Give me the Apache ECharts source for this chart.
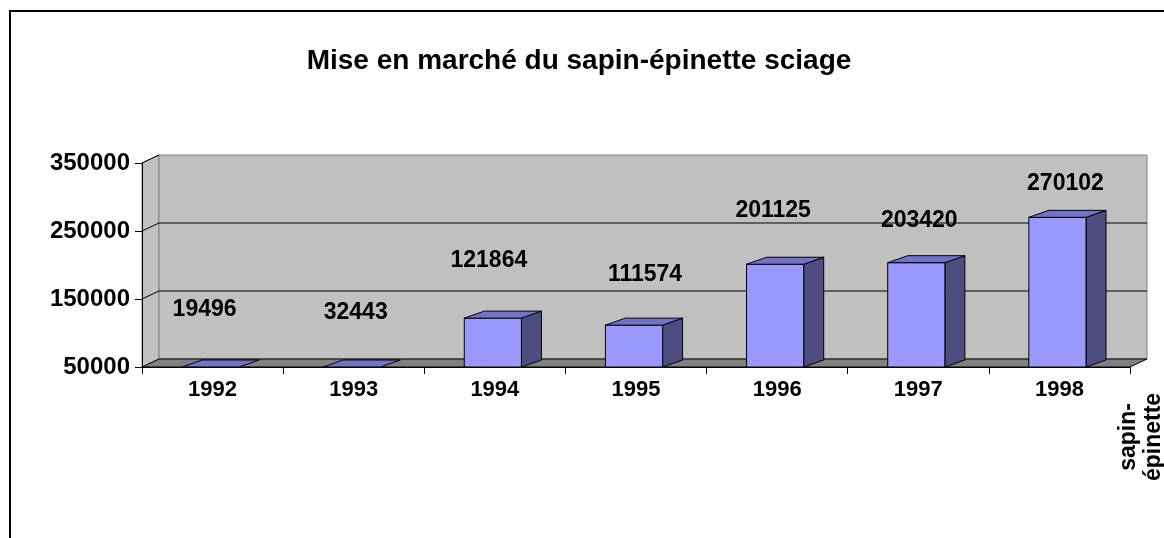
<!DOCTYPE html>
<html>
<head>
<meta charset="utf-8">
<script src="https://cdn.jsdelivr.net/npm/echarts@6/dist/echarts.min.js"></script>
<style>
html,body{margin:0;padding:0;background:#fff;}
#chart{width:1164px;height:538px;}
</style>
</head>
<body>
<div id="chart"></div>
<script>
// ---- data ----
const titleText = 'Mise en marché du sapin-épinette sciage';
const seriesName = 'sapin-\népinette';
const categories = ['1992', '1993', '1994', '1995', '1996', '1997', '1998'];
const values = [19496, 32443, 121864, 111574, 201125, 203420, 270102];
const yTicks = [50000, 150000, 250000, 350000];
const yMin = 50000, yMax = 350000, yStep = 100000;

// ---- style / placement (not data) ----
const FONT = 'Arial, "Liberation Sans", sans-serif';
const WALL_D = [17, -8];   // wall depth offset in px
const BAR_D = [20, -7];    // bar depth offset in px
const labelNudge = [[-8, -57], [2, -54], [-6, -57], [9, -50], [-4, -54], [1, -42], [6, -34]];

const chart = echarts.init(document.getElementById('chart'), null, {renderer: 'canvas'});

function frameRender(params, api) {
  const cs = params.coordSys;
  const x0 = cs.x, x1 = cs.x + cs.width;
  const yB = api.coord([0, yMin])[1];
  const yT = api.coord([0, yMax])[1];
  const dx = WALL_D[0], dy = WALL_D[1];
  const children = [];
  // side wall
  children.push({type: 'polygon', shape: {points: [[x0, yT], [x0 + dx, yT + dy], [x0 + dx, yB + dy], [x0, yB]]},
    style: {fill: '#C0C0C0', stroke: '#808080', lineWidth: 1}});
  // back wall
  children.push({type: 'rect', shape: {x: x0 + dx, y: yT + dy, width: x1 - x0, height: yB - yT},
    style: {fill: '#C0C0C0', stroke: '#808080', lineWidth: 1}});
  // floor
  children.push({type: 'polygon', shape: {points: [[x0, yB], [x0 + dx, yB + dy], [x1 + dx, yB + dy], [x1, yB]]},
    style: {fill: '#808080', stroke: '#000', lineWidth: 1}});
  // gridlines
  yTicks.forEach(function (v) {
    if (v <= yMin) return;
    const y = api.coord([0, v])[1];
    const pts = v >= yMax ? [[x0, y], [x0 + dx, y + dy]] : [[x0, y], [x0 + dx, y + dy], [x1 + dx, y + dy]];
    children.push({type: 'polyline', shape: {points: pts},
      style: {stroke: '#000', lineWidth: 1, fill: null}});
  });
  return {type: 'group', children: children};
}

function barRender(params, api) {
  const i = api.value(0);
  const v = api.value(1);
  const vc = Math.max(v, yMin);
  const top = api.coord([i, vc]);
  const base = api.coord([i, yMin]);
  const bw = api.size([1, 0])[0] * 0.405;
  const left = top[0] - bw / 2 - 2, right = left + bw;
  const yT = top[1], yB = base[1];
  const dx = BAR_D[0], dy = BAR_D[1];
  const children = [];
  if (yB - yT > 0.5) {
    children.push({type: 'polygon', shape: {points: [[right, yT], [right + dx, yT + dy], [right + dx, yB + dy], [right, yB]]},
      style: {fill: '#4D4D80', stroke: '#000', lineWidth: 1}});
    children.push({type: 'rect', shape: {x: left, y: yT, width: bw, height: yB - yT},
      style: {fill: '#9999FF', stroke: '#000', lineWidth: 1}});
  }
  children.push({type: 'polygon', shape: {points: [[left, yT], [left + dx, yT + dy], [right + dx, yT + dy], [right, yT]]},
    style: {fill: '#7373C6', stroke: '#000', lineWidth: 1}});
  const n = labelNudge[params.dataIndex] || [0, -50];
  children.push({type: 'text', x: top[0] + n[0], y: yT + n[1],
    style: {text: String(v), fill: '#000', font: 'bold 23px ' + FONT, align: 'center', verticalAlign: 'middle'}});
  return {type: 'group', children: children};
}

const option = {
  backgroundColor: '#fff',
  animation: false,
  title: {
    text: titleText, left: 574, top: 42, textAlign: 'center',
    textStyle: {fontSize: 28, fontWeight: 'bold', color: '#000', fontFamily: FONT}
  },
  graphic: [
    {type: 'rect', shape: {x: 10, y: 11, width: 1300, height: 700}, style: {fill: null, stroke: '#000', lineWidth: 2}, z: 100, silent: true},
    {type: 'text', x: 1141, y: 437, rotation: Math.PI / 2,
      style: {text: seriesName, fill: '#000', font: 'bold 23px ' + FONT, align: 'center', verticalAlign: 'middle', lineHeight: 25}, z: 100}
  ],
  grid: {left: 142, right: 34, top: 163, bottom: 171, containLabel: false},
  xAxis: {
    type: 'category', data: categories, boundaryGap: true, z: 10,
    axisLine: {show: true, lineStyle: {color: '#000', width: 1}},
    axisTick: {show: true, length: 7, lineStyle: {color: '#000'}},
    axisLabel: {color: '#000', fontWeight: 'bold', fontSize: 22, fontFamily: FONT, margin: 12},
    splitLine: {show: false}
  },
  yAxis: {
    type: 'value', min: yMin, max: yMax, interval: yStep, z: 10,
    axisLine: {show: true, lineStyle: {color: '#000', width: 1}},
    axisTick: {show: true, length: 7, lineStyle: {color: '#000'}},
    axisLabel: {color: '#000', fontWeight: 'bold', fontSize: 24, fontFamily: FONT, margin: 12,
      formatter: function (v) { return String(v); }},
    splitLine: {show: false}
  },
  series: [
    {type: 'custom', name: 'frame', renderItem: frameRender, data: [[0, yMin]], z: 1, silent: true,
      encode: {x: 0, y: 1}},
    {type: 'custom', name: 'sapin-épinette', renderItem: barRender,
      data: values.map(function (v, i) { return [i, v]; }), z: 3, encode: {x: 0, y: 1}}
  ]
};
chart.setOption(option);
</script>
</body>
</html>
